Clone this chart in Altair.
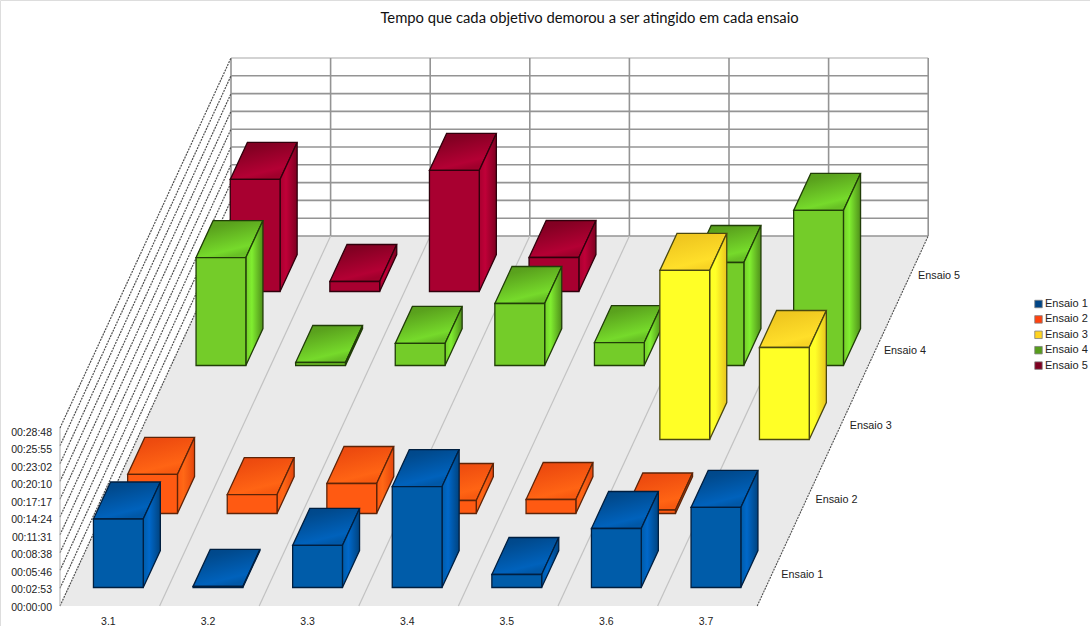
import altair as alt
import pandas as pd

# Time taken per objective and trial, in seconds (None = objective not reached)
categories = ["3.1", "3.2", "3.3", "3.4", "3.5", "3.6", "3.7"]
series = ["Ensaio 1", "Ensaio 2", "Ensaio 3", "Ensaio 4", "Ensaio 5"]
ensaio_1 = [665, 10, 408, 980, 126, 573, 777]
ensaio_2 = [379, 184, 291, 126, 136, 34, None]
ensaio_3 = [None, None, None, None, None, 1641, 893]
ensaio_4 = [1048, 29, 214, 602, 223, 1000, 1505]
ensaio_5 = [1088, 97, 1175, 330, None, None, None]
values = [ensaio_1, ensaio_2, ensaio_3, ensaio_4, ensaio_5]
tick_labels = ["00:00:00", "00:02:53", "00:05:46", "00:08:38", "00:11:31", "00:14:24",
               "00:17:17", "00:20:10", "00:23:02", "00:25:55", "00:28:48"]
tick_seconds = [0, 173, 346, 518, 691, 864, 1037, 1210, 1382, 1555, 1728]

# Oblique projection of the category / trial / time box onto the canvas
W, H = 1090, 626
ORIGIN_X, ORIGIN_Y = 60.0, 606.0
CAT_W = 99.6
ROW_DX, ROW_DY = 34.2, 74.0
MAX_SECONDS = 1728.0
WALL_H = 178.0
N_CAT, N_ROW = len(categories), len(series)


def px(cat, row):
    return ORIGIN_X + cat * CAT_W + row * ROW_DX


def py(row, seconds=0.0):
    return ORIGIN_Y - row * ROW_DY - seconds / MAX_SECONDS * WALL_H


X = alt.Scale(domain=[0, W], range=[0, W], nice=False, zero=False)
Y = alt.Scale(domain=[0, H], range=[0, H], nice=False, zero=False)


def qx(field="x"):
    return alt.X(f"{field}:Q", scale=X, axis=None)


def qy(field="y"):
    return alt.Y(f"{field}:Q", scale=Y, axis=None)


def gradient(colors, offsets, x2, y2):
    return alt.LinearGradient(
        gradient="linear", x1=0, y1=0, x2=x2, y2=y2,
        stops=[alt.GradientStop(offset=o, color=c) for o, c in zip(offsets, colors)],
    )


TOP_STOPS = [0, 0.25, 0.85, 1]
SIDE_STOPS = [0, 0.35, 1]

# Face colours per trial: legend colour, front, top gradient, side gradient, outline
styles = {
    "Ensaio 1": ("#004586", "#005ca9", ("#004586", "#004a8e", "#0062bc", "#0058a8"), ("#005ca9", "#0068ca", "#00437f"), "#001f40"),
    "Ensaio 2": ("#ff420e", "#ff5a12", ("#e8470e", "#ee4c0f", "#ff6414", "#f85a10"), ("#ff5a12", "#ff6816", "#e6460c"), "#5e2408"),
    "Ensaio 3": ("#ffd320", "#ffff26", ("#eec41e", "#f0c820", "#ffdf2a", "#f8d424"), ("#ffff26", "#ffff28", "#e8c41e"), "#4a4810"),
    "Ensaio 4": ("#579d1c", "#74cc29", ("#579d1c", "#5aa21d", "#76da2b", "#68c025"), ("#74cc29", "#80ee30", "#4f8f1a"), "#213d08"),
    "Ensaio 5": ("#7e0021", "#a80030", ("#7e0021", "#840023", "#b40034", "#a0002c"), ("#a80030", "#c00038", "#7e0021"), "#30000c"),
}


def segments(rows, **mark):
    df = pd.DataFrame(rows, columns=["x", "y", "x2", "y2"])
    return alt.Chart(df).mark_rule(**mark).encode(
        x=qx(), y=qy(), x2=alt.X2("x2:Q"), y2=alt.Y2("y2:Q"))


# Floor plane
floor = alt.Chart(pd.DataFrame({
    "y": [py(0), py(N_ROW)],
    "x": [px(0, 0), px(0, N_ROW)],
    "x2": [px(N_CAT, 0), px(N_CAT, N_ROW)],
})).mark_area(orient="horizontal", fill="#eaeaea").encode(y=qy(), x=qx(), x2=alt.X2("x2:Q"))

# Back wall grid
wall_h = segments(
    [(px(0, N_ROW), py(N_ROW, s), px(N_CAT, N_ROW), py(N_ROW, s)) for s in tick_seconds[:-1]],
    color="#949494", strokeWidth=1.6)
wall_top = segments(
    [(px(0, N_ROW), py(N_ROW, MAX_SECONDS), px(N_CAT, N_ROW), py(N_ROW, MAX_SECONDS))],
    color="#c4c4c4", strokeWidth=1.5)
wall_v = segments(
    [(px(c, N_ROW), py(N_ROW), px(c, N_ROW), py(N_ROW, MAX_SECONDS)) for c in range(N_CAT + 1)],
    color="#949494", strokeWidth=1.6)

# Side wall grid, running from the front edge to the back wall
side_lines = segments(
    [(px(0, 0), py(0, s), px(0, N_ROW), py(N_ROW, s)) for s in tick_seconds],
    color="#4e4e4e", strokeWidth=1.2, strokeDash=[2, 1])
side_front = segments([(px(0, 0), py(0), px(0, 0), py(0, MAX_SECONDS))], color="#bcbcbc", strokeWidth=1.2)

# Floor lines between categories, and the floor's right edge
floor_lines = segments(
    [(px(c, 0), py(0), px(c, N_ROW), py(N_ROW)) for c in range(1, N_CAT)],
    color="#c2c2c2", strokeWidth=1.2)
floor_edge = segments([(px(N_CAT, 0), py(0), px(N_CAT, N_ROW), py(N_ROW))],
                      color="#4e4e4e", strokeWidth=1.1, strokeDash=[2, 1])


def box_layers(row):
    """Top, side and front faces of one trial's bars; each bar fills the middle half of its cell."""
    name = series[row]
    _, front, top_grad, side_grad, edge = styles[name]
    tops, sides, fronts = [], [], []
    for cat, seconds in enumerate(values[row]):
        if seconds is None:
            continue
        xl, xr = px(cat + 0.25, row + 0.25), px(cat + 0.75, row + 0.25)
        dx, dy = 0.5 * ROW_DX, 0.5 * ROW_DY
        yb, yt = py(row + 0.25), py(row + 0.25, seconds)
        fronts.append({"x": xl, "x2": xr, "y": yb, "y2": yt})
        tops += [{"id": cat, "y": yt, "x": xl, "x2": xr},
                 {"id": cat, "y": yt - dy, "x": xl + dx, "x2": xr + dx}]
        sides += [{"id": cat, "x": xr, "y": yb, "y2": yt},
                  {"id": cat, "x": xr + dx, "y": yb - dy, "y2": yt - dy}]
    top = alt.Chart(pd.DataFrame(tops)).mark_area(
        orient="horizontal", stroke=edge, strokeWidth=1.3,
        fill=gradient(top_grad, TOP_STOPS, 0.45, 1),
    ).encode(y=qy(), x=qx(), x2=alt.X2("x2:Q"), detail="id:N")
    side = alt.Chart(pd.DataFrame(sides)).mark_area(
        orient="vertical", stroke=edge, strokeWidth=1.3,
        fill=gradient(side_grad, SIDE_STOPS, 1, 0),
    ).encode(x=qx(), y=qy(), y2=alt.Y2("y2:Q"), detail="id:N")
    face = alt.Chart(pd.DataFrame(fronts)).mark_rect(
        stroke=edge, strokeWidth=1.3, fill=front,
    ).encode(x=qx(), x2=alt.X2("x2:Q"), y=qy(), y2=alt.Y2("y2:Q"))
    return [top, side, face]


def labels(rows, align, size=10.5, font="Liberation Sans", color="#222222"):
    df = pd.DataFrame(rows, columns=["x", "y", "label"])
    return alt.Chart(df).mark_text(
        align=align, baseline="middle", font=font, fontSize=size, color=color,
    ).encode(x=qx(), y=qy(), text="label:N")


# Tick labels sit slightly tighter than the wall lines
LABEL_STEP = 17.45
time_labels = labels([(52, ORIGIN_Y + 1.5 - i * LABEL_STEP, t) for i, t in enumerate(tick_labels)], "right")
cat_labels = labels([(px(c + 0.5, 0) - 1.4, 622, name) for c, name in enumerate(categories)], "center")
row_labels = labels([(px(N_CAT, r + 0.5) + 7, py(r + 0.5) + 6 - 0.75 * r, name) for r, name in enumerate(series)],
                    "left", size=10.8)
title = labels([(589.5, 19, "Tempo que cada objetivo demorou a ser atingido em cada ensaio")],
               "center", size=14.8, font="Lato", color="#111111")

# Legend driven by a colour scale on an otherwise empty-sized layer
legend_layer = alt.Chart(pd.DataFrame({"serie": series, "x": [0] * N_ROW, "y": [0] * N_ROW})).mark_square(
    size=0, opacity=1,
).encode(
    x=qx(), y=qy(),
    color=alt.Color("serie:N", scale=alt.Scale(domain=series, range=[styles[s][0] for s in series]),
                    legend=alt.Legend(
                        orient="none", legendX=1033, legendY=298.5, title=None, padding=0,
                        symbolType="square", symbolSize=56, symbolStrokeColor="#808080",
                        symbolStrokeWidth=0.8, labelFont="Liberation Sans", labelFontSize=11,
                        labelColor="#222222", rowPadding=3.4, labelOffset=1,
                    )),
)

bars = []
for r in reversed(range(N_ROW)):
    bars += box_layers(r)

chart = alt.layer(
    floor, wall_h, wall_top, wall_v, side_lines, side_front, floor_lines, floor_edge,
    *bars,
    time_labels, cat_labels, row_labels, title, legend_layer,
).properties(
    width=W, height=H, padding=0, autosize=alt.AutoSizeParams(type="none"),
).configure_view(stroke=None).configure(background="white")

chart.save("out.html", embed_options={"renderer": "svg", "actions": False})
